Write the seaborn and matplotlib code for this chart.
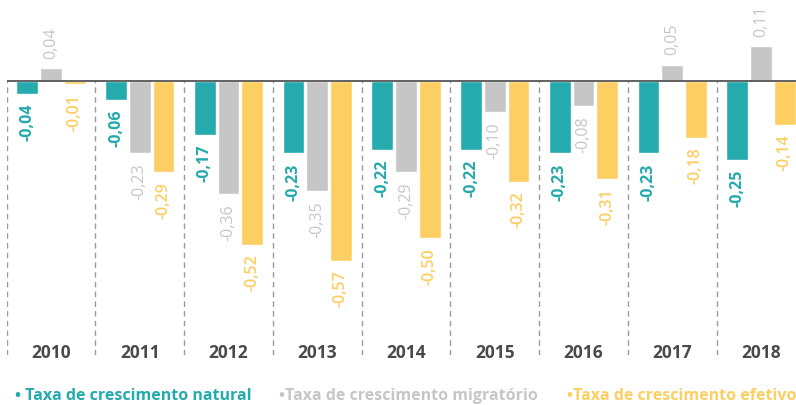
import matplotlib
matplotlib.use("Agg")
import matplotlib.pyplot as plt
import pandas as pd
import seaborn as sns

years = ["2010", "2011", "2012", "2013", "2014", "2015", "2016", "2017", "2018"]
series = [
    "Taxa de crescimento natural",
    "Taxa de crescimento migratório",
    "Taxa de crescimento efetivo",
]
natural = [-0.04, -0.06, -0.17, -0.23, -0.22, -0.22, -0.23, -0.23, -0.25]
migratorio = [0.04, -0.23, -0.36, -0.35, -0.29, -0.10, -0.08, 0.05, 0.11]
efetivo = [-0.01, -0.29, -0.52, -0.57, -0.50, -0.32, -0.31, -0.18, -0.14]
colors = ["#25AAAD", "#C6C6C6", "#FDCF62"]
legend_prefix = ["• ", "•", "•"]

sns.set_style("white")
plt.rcParams["font.family"] = ["Open Sans", "DejaVu Sans"]

df = pd.DataFrame({
    "ano": years * 3,
    "serie": [s for s in series for _ in years],
    "valor": natural + migratorio + efetivo,
})

fig = plt.figure(figsize=(7.96, 4.05), dpi=100)
ax = fig.add_axes([6.6 / 796, 50 / 405, 798.75 / 796, 355 / 405])

sns.barplot(data=df, x="ano", y="valor", hue="serie", hue_order=series,
            palette=colors, width=0.8, gap=0.08, saturation=1,
            legend=False, ax=ax, zorder=2)

ax.set_ylim(-0.87, 0.257)
ax.set_xlim(-0.5, len(years) - 0.5)

# value labels, rotated, below negative bars / above positive ones
weights = ["bold", "normal", "semibold"]
for cont, col, w in zip(ax.containers, colors, weights):
    vals = [b.get_height() for b in cont]
    labels = [f"{v:.2f}".replace(".", ",") for v in vals]
    ax.bar_label(cont, labels=labels, padding=7, rotation=90, color=col,
                 fontsize=11.5, fontweight=w)

# zero line and dashed separators
ax.axhline(0, color="#555555", lw=1.3, zorder=3)
ax.vlines([i - 0.5 for i in range(len(years) + 1)], -0.87, 0,
          colors="#9a9a9a", linestyles=(0, (4, 3)), lw=1, zorder=1)

for s in ax.spines.values():
    s.set_visible(False)
ax.set_yticks([])
ax.set_xlabel("")
ax.set_ylabel("")
ax.tick_params(axis="x", length=0, pad=-8, labelsize=12.5,
               labelcolor="#4a4a4a")
for t in ax.get_xticklabels():
    t.set_fontweight("bold")

# legend as coloured text
legend_x = [15, 279, 567]
for name, pre, col, x in zip(series, legend_prefix, colors, legend_x):
    fig.text(x / 796, 5 / 405, pre + name, color=col, fontsize=11.5,
             fontweight="bold", va="baseline", ha="left")

fig.savefig("out.png", dpi=100)
